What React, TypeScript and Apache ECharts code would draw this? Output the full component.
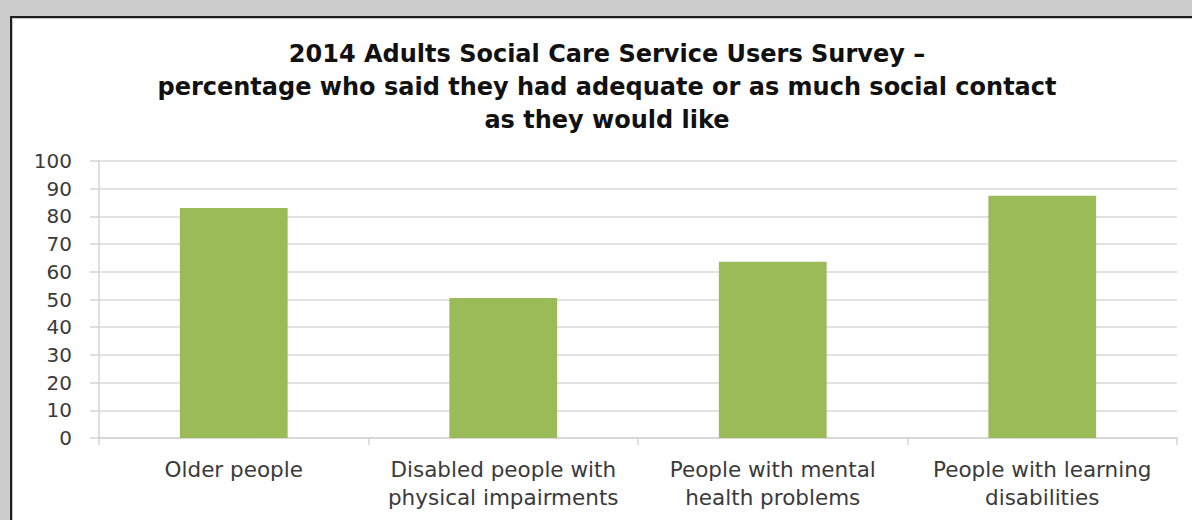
import React, { useEffect, useRef } from "react";
import * as echarts from "echarts";

const titleLines = [
  "2014 Adults Social Care Service Users Survey \u2013",
  "percentage who said they had adequate or as much social contact",
  "as they would like",
];
const categories = [
  "Older people",
  "Disabled people with\nphysical impairments",
  "People with mental\nhealth problems",
  "People with learning\ndisabilities",
];
const values = [83, 50.5, 63.6, 87.5];
const yTicks = { min: 0, max: 100, interval: 10 };

const W = 1192;
const H = 520;

export default function App() {
  const ref = useRef<HTMLDivElement>(null);
  useEffect(() => {
    if (!ref.current) return;
    const chart = echarts.init(ref.current, undefined, { renderer: "svg" });
    const font = "'DejaVu Sans', sans-serif";
    chart.setOption({
      animation: false,
      backgroundColor: "#cccccc",
      graphic: [
        {
          type: "rect",
          z: -10,
          silent: true,
          shape: { x: 11, y: 17, width: W, height: H },
          style: { fill: "#ffffff", stroke: "#1e1e1e", lineWidth: 2 },
        },
        {
          type: "polyline",
          z: -9,
          silent: true,
          shape: { points: [[12.5, H], [12.5, 18.5], [W, 18.5]] },
          style: { stroke: "#c4c4c4", lineWidth: 1, fill: "none" },
        },
        {
          type: "text",
          x: 607,
          y: 37,
          style: {
            text: titleLines.join("\n"),
            textAlign: "center",
            textVerticalAlign: "top",
            font: `bold 24px ${font}`,
            lineHeight: 33,
            fill: "#111111",
          },
        },
      ],
      grid: { left: 99, right: 15, top: 161, bottom: 82 },
      xAxis: {
        type: "category",
        data: categories,
        axisLine: { show: true, lineStyle: { color: "#d4d4d4", width: 1.5 } },
        axisTick: { show: true, length: 7, alignWithLabel: false, lineStyle: { color: "#d4d4d4", width: 1.5 } },
        axisLabel: {
          interval: 0,
          fontSize: 21.5,
          lineHeight: 28,
          margin: 17,
          color: "#3a3a3a",
          fontFamily: font,
        },
        splitLine: { show: false },
      },
      yAxis: {
        type: "value",
        min: yTicks.min,
        max: yTicks.max,
        interval: yTicks.interval,
        axisLine: { show: true, lineStyle: { color: "#d4d4d4", width: 1.5 } },
        axisTick: { show: true, length: 9, lineStyle: { color: "#d4d4d4", width: 1.5 } },
        axisLabel: { fontSize: 20, margin: 27, color: "#3a3a3a", fontFamily: font },
        splitLine: { show: true, lineStyle: { color: "#d9d9d9", width: 1.5 } },
      },
      series: [
        {
          type: "bar",
          data: values,
          barWidth: "40%",
          itemStyle: { color: "#9bbb59" },
        },
      ],
    });
    return () => chart.dispose();
  }, []);

  return (
    <>
      <style>{`html,body{margin:0;padding:0;overflow:hidden;background:#cccccc;}`}</style>
      <div ref={ref} style={{ width: W, height: H }} />
    </>
  );
}
